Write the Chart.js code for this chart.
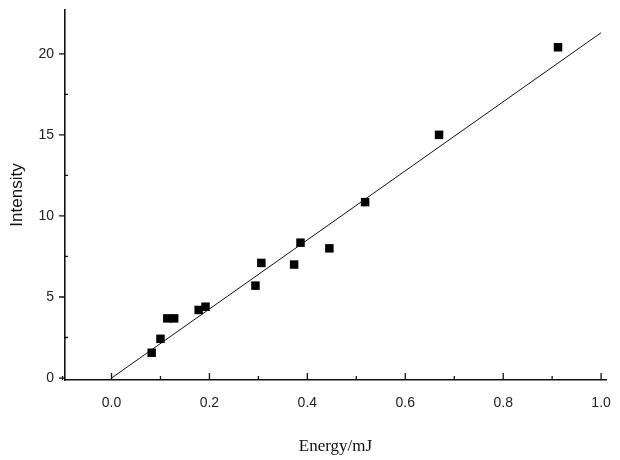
<!DOCTYPE html>
<html>
<head>
<meta charset="utf-8">
<script src="https://cdn.jsdelivr.net/npm/chart.js@4.4.1/dist/chart.umd.min.js"></script>
<style>
  html, body { margin: 0; padding: 0; background: #fff; }
  #wrap { width: 620px; height: 460px; }
</style>
</head>
<body>
<div id="wrap"><canvas id="chart" width="620" height="460"></canvas></div>
<script>
const energy    = [0.082, 0.100, 0.114, 0.128, 0.178, 0.192, 0.294, 0.306, 0.373, 0.386, 0.445, 0.518, 0.669, 0.912];
const intensity = [1.56, 2.42, 3.68, 3.68, 4.20, 4.40, 5.70, 7.10, 7.00, 8.35, 8.00, 10.85, 15.00, 20.40];

// Linear fit line
const fitX = [0.0, 1.0];
const fitY = [0.0, 21.3];

// Tick positions
const xTicks = [0.0, 0.2, 0.4, 0.6, 0.8, 1.0];
const xMinorTicks = [-0.1, 0.1, 0.3, 0.5, 0.7, 0.9];
const yTicks = [0, 5, 10, 15, 20];
const yMinorTicks = [2.5, 7.5, 12.5, 17.5];

// Draw short tick marks: y ticks outward, x ticks inward
const tickMarks = {
    id: 'tickMarks',
    afterDraw(chart) {
        const ctx = chart.ctx;
        const xs = chart.scales.x, ys = chart.scales.y;
        const area = chart.chartArea;
        ctx.save();
        ctx.strokeStyle = '#111';
        ctx.lineWidth = 1.3;
        ctx.beginPath();
        xTicks.forEach(v => {
            const px = xs.getPixelForValue(v);
            ctx.moveTo(px, area.bottom);
            ctx.lineTo(px, area.bottom - 7);
        });
        xMinorTicks.forEach(v => {
            const px = xs.getPixelForValue(v);
            ctx.moveTo(px, area.bottom);
            ctx.lineTo(px, area.bottom - 4);
        });
        yTicks.forEach(v => {
            const py = ys.getPixelForValue(v);
            ctx.moveTo(area.left, py);
            ctx.lineTo(area.left - 6, py);
        });
        yMinorTicks.forEach(v => {
            const py = ys.getPixelForValue(v);
            ctx.moveTo(area.left, py);
            ctx.lineTo(area.left + 3, py);
        });
        ctx.stroke();
        ctx.restore();
    }
};

const ctx = document.getElementById('chart').getContext('2d');
new Chart(ctx, {
    type: 'scatter',
    data: {
        datasets: [{
            label: 'Fit',
            type: 'line',
            data: fitX.map((x, i) => ({ x: x, y: fitY[i] })),
            borderColor: '#111',
            borderWidth: 1,
            pointRadius: 0,
            fill: false,
            tension: 0
        }, {
            label: 'Data',
            data: energy.map((x, i) => ({ x: x, y: intensity[i] })),
            pointStyle: 'rect',
            pointRadius: 6,
            backgroundColor: '#000',
            borderColor: '#000',
            borderWidth: 0
        }]
    },
    plugins: [tickMarks],
    options: {
        responsive: false,
        animation: false,
        devicePixelRatio: 1,
        layout: { padding: { left: 0, right: 14, top: 10, bottom: 0 } },
        plugins: {
            legend: { display: false },
            tooltip: { enabled: false }
        },
        scales: {
            x: {
                type: 'linear',
                min: -0.095,
                max: 1.01,
                afterBuildTicks: s => { s.ticks = xTicks.map(v => ({ value: v })); },
                afterFit: s => { s.height = 80; s.paddingLeft = 0; s.paddingRight = 0; },
                grid: { display: false, drawTicks: false },
                border: { display: true, color: '#111', width: 1.6 },
                ticks: {
                    padding: 15,
                    color: '#222',
                    font: { family: 'Liberation Sans', size: 14 },
                    callback: v => v.toFixed(1)
                },
                title: {
                    display: true,
                    text: 'Energy/mJ',
                    color: '#111',
                    font: { family: 'Liberation Serif', size: 17 },
                    padding: { top: 0, bottom: 3 }
                }
            },
            y: {
                type: 'linear',
                min: -0.12,
                max: 22.7,
                afterBuildTicks: s => { s.ticks = yTicks.map(v => ({ value: v })); },
                afterFit: s => { s.width = 65; s.paddingTop = 0; s.paddingBottom = 0; },
                grid: { display: false, drawTicks: false },
                border: { display: true, color: '#111', width: 1.6 },
                ticks: {
                    padding: 11,
                    color: '#222',
                    font: { family: 'Liberation Sans', size: 14 }
                },
                title: {
                    display: true,
                    text: 'Intensity',
                    color: '#111',
                    font: { family: 'Liberation Sans', size: 17 },
                    padding: { top: 7, bottom: 0 }
                }
            }
        }
    }
});
</script>
</body>
</html>
